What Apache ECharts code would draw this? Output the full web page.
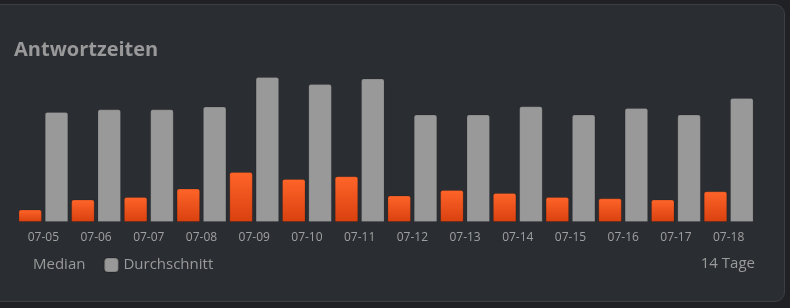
<!DOCTYPE html>
<html>
<head>
<meta charset="utf-8">
<script src="https://cdn.jsdelivr.net/npm/echarts@6/dist/echarts.min.js"></script>
<style>
  html, body { margin: 0; padding: 0; background: #1f2124; width: 790px; height: 308px; overflow: hidden; }
  .card {
    position: absolute; left: -10px; top: 4px; width: 793px; height: 296px;
    background: #2a2d32; border: 1px solid #3b3e43; border-radius: 10px;
  }
  #chart { position: absolute; left: 0; top: 0; width: 790px; height: 308px; }
</style>
</head>
<body>
<div class="card"></div>
<div id="chart"></div>
<script>
  const days = ['07-05', '07-06', '07-07', '07-08', '07-09', '07-10', '07-11',
    '07-12', '07-13', '07-14', '07-15', '07-16', '07-17', '07-18']
  const median = [124, 224, 250, 334, 500, 430, 457, 264, 320, 290, 250, 237, 224, 307]
  const average = [1100, 1127, 1127, 1154, 1450, 1380, 1434, 1074, 1074, 1157, 1074, 1140, 1074, 1240]

  const chart = echarts.init(document.getElementById('chart'))
  const font = '"Open Sans", "Noto Sans", sans-serif'

  const option = {
    backgroundColor: 'transparent',
    animation: false,
    title: {
      text: 'Antwortzeiten',
      left: 14,
      top: 40,
      padding: 0,
      textStyle: { color: '#999999', fontSize: 20, fontWeight: 'bold', fontFamily: font },
    },
    legend: {
      left: 13,
      top: 257,
      padding: 0,
      itemWidth: 14,
      itemHeight: 14,
      itemGap: 18,
      icon: 'roundRect',
      textStyle: { color: '#9a9a9a', fontSize: 15, fontFamily: font },
      data: [
        { name: 'Median', itemStyle: { opacity: 0 } },
        { name: 'Durchschnitt', itemStyle: { color: '#999999' } },
      ],
    },
    graphic: [
      {
        type: 'text',
        right: 35,
        top: 256,
        style: { text: '14 Tage', fill: '#9a9a9a', fontSize: 15, fontFamily: font },
      },
    ],
    grid: { left: 17, right: 35, top: 77, bottom: 86 },
    xAxis: {
      type: 'category',
      data: days,
      axisLine: { show: false },
      axisTick: { show: false },
      axisLabel: { color: '#a0a0a0', fontSize: 12, margin: 10, fontFamily: font },
    },
    yAxis: {
      type: 'value',
      min: 0,
      max: 1450,
      show: false,
      splitLine: { show: false },
    },
    series: [
      {
        name: 'Median',
        type: 'bar',
        barWidth: 23.5,
        barGap: '12%',
        itemStyle: {
          borderRadius: [2, 2, 0, 0],
          borderColor: 'rgba(0,0,0,0.15)',
          borderWidth: 1,
          color: new echarts.graphic.LinearGradient(0, 0, 0, 1, [
            { offset: 0, color: '#ff6529' },
            { offset: 1, color: '#d8400f' },
          ]),
        },
        data: median,
      },
      {
        name: 'Durchschnitt',
        type: 'bar',
        barWidth: 23.5,
        itemStyle: {
          borderRadius: [2, 2, 0, 0],
          borderColor: 'rgba(0,0,0,0.12)',
          borderWidth: 1,
          color: '#999999',
        },
        data: average,
      },
    ],
  }

  chart.setOption(option)
</script>
</body>
</html>
